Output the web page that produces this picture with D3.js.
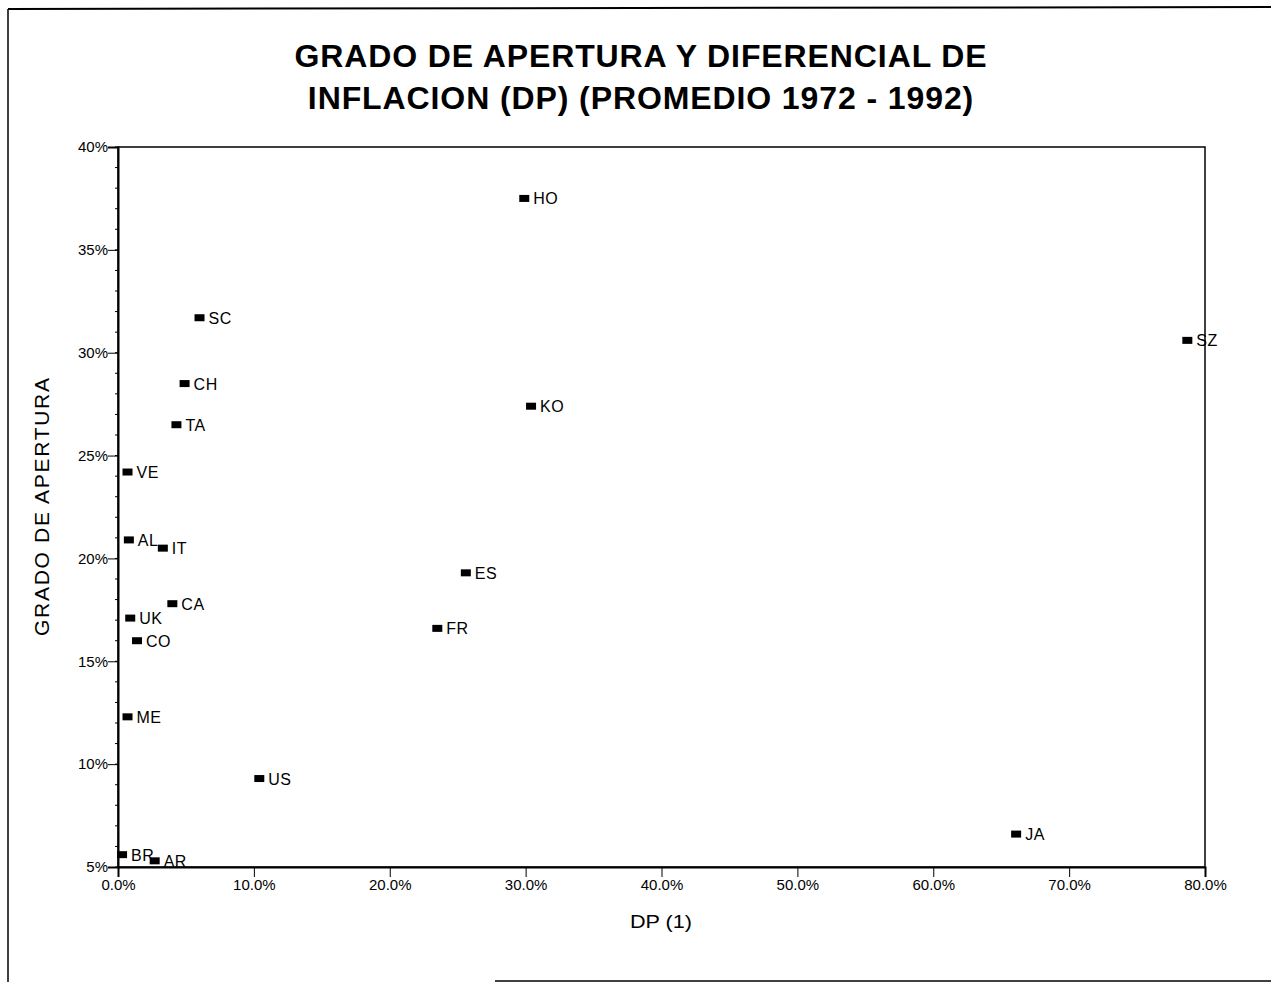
<!DOCTYPE html>
<html>
<head>
<meta charset="utf-8">
<script src="https://cdn.jsdelivr.net/npm/d3@7"></script>
<style>
  html, body { margin: 0; padding: 0; background: #fff; }
  svg { display: block; font-family: "Liberation Sans", Arial, sans-serif; }
</style>
</head>
<body>
<svg id="chart" width="1271" height="982"></svg>
<script>
// ---- data ----
const countries = ["HO","SC","SZ","CH","KO","TA","VE","AL","IT","ES","CA","UK","FR","CO","ME","US","JA","BR","AR"];
const dpValues  = [29.9, 6.0, 78.7, 4.9, 30.4, 4.3, 0.7, 0.8, 3.3, 25.6, 4.0, 0.9, 23.5, 1.4, 0.7, 10.4, 66.1, 0.3, 2.7];
const openValues= [37.5, 31.7, 30.6, 28.5, 27.4, 26.5, 24.2, 20.9, 20.5, 19.3, 17.8, 17.1, 16.6, 16.0, 12.3, 9.3, 6.6, 5.6, 5.3];
const xTicks = [0,10,20,30,40,50,60,70,80];
const xTickLabels = ["0.0%","10.0%","20.0%","30.0%","40.0%","50.0%","60.0%","70.0%","80.0%"];
const yTicks = [5,10,15,20,25,30,35,40];
const yTickLabels = ["5%","10%","15%","20%","25%","30%","35%","40%"];
const yMinorTicks = d3.range(5, 40.01, 1);
const titleLines = ["GRADO DE APERTURA Y DIFERENCIAL DE", "INFLACION (DP) (PROMEDIO 1972 - 1992)"];
const xLabel = "DP (1)";
const yLabel = "GRADO DE APERTURA";

const svg = d3.select("#chart");
const pLeft = 118, pRight = 1205, pTop = 147, pBottom = 867;

const x = d3.scaleLinear().domain([0, 80]).range([pLeft, pRight]);
const y = d3.scaleLinear().domain([5, 40]).range([pBottom, pTop]);

// page border (scan frame)
svg.append("line").attr("x1", 8).attr("y1", 9).attr("x2", 1271).attr("y2", 7).attr("stroke", "#000").attr("stroke-width", 2);
svg.append("line").attr("x1", 8).attr("y1", 9).attr("x2", 8).attr("y2", 982).attr("stroke", "#000").attr("stroke-width", 1.5);
svg.append("line").attr("x1", 495).attr("y1", 981).attr("x2", 1271).attr("y2", 981).attr("stroke", "#000").attr("stroke-width", 1.5);

// title
svg.append("text")
  .attr("text-anchor", "middle")
  .attr("font-weight", "bold").attr("font-size", 32).attr("letter-spacing", 0.9)
  .selectAll("tspan").data(titleLines).join("tspan")
  .attr("x", 641).attr("y", (d, i) => 67 + i * 42)
  .text(d => d);

// plot frame
svg.append("rect").attr("x", pLeft).attr("y", pTop).attr("width", pRight - pLeft).attr("height", pBottom - pTop)
  .attr("fill", "none").attr("stroke", "#000").attr("stroke-width", 1.5);

// x axis
const xAxis = d3.axisBottom(x).tickValues(xTicks).tickSize(10).tickPadding(2)
  .tickFormat((d, i) => xTickLabels[i]);
const gx = svg.append("g").attr("transform", `translate(0,${pBottom})`).call(xAxis);
gx.select(".domain").attr("stroke-width", 2);
gx.selectAll("text").attr("font-size", 15).attr("font-family", "Liberation Sans, Arial, sans-serif").attr("fill", "#000");

// y axis
const yAxis = d3.axisLeft(y).tickValues(yTicks).tickSize(10).tickPadding(0)
  .tickFormat((d, i) => yTickLabels[i]);
const gy = svg.append("g").attr("transform", `translate(${pLeft},0)`).call(yAxis);
gy.select(".domain").attr("stroke-width", 2);
gy.selectAll("text").attr("font-size", 15).attr("font-family", "Liberation Sans, Arial, sans-serif").attr("fill", "#000");

// y minor ticks
svg.append("g").selectAll("line").data(yMinorTicks).join("line")
  .attr("x1", pLeft - 3).attr("x2", pLeft)
  .attr("y1", d => y(d)).attr("y2", d => y(d))
  .attr("stroke", "#000").attr("stroke-width", 1);

// axis labels
svg.append("text").attr("x", 661).attr("y", 928).attr("text-anchor", "middle")
  .attr("font-size", 18).attr("textLength", 62).attr("lengthAdjust", "spacingAndGlyphs").text(xLabel);
svg.append("text").attr("transform", "translate(49,507) rotate(-90)").attr("text-anchor", "middle")
  .attr("font-size", 21).attr("textLength", 258).attr("lengthAdjust", "spacing").text(yLabel);

// points
const pts = countries.map((c, i) => ({ c, dp: dpValues[i], op: openValues[i] }));
const g = svg.append("g");
g.selectAll("rect").data(pts).join("rect")
  .attr("x", d => x(d.dp) - 5).attr("y", d => y(d.op) - 3.5)
  .attr("width", 10).attr("height", 7).attr("fill", "#000");
g.selectAll("text").data(pts).join("text")
  .attr("x", d => x(d.dp) + 9).attr("y", d => y(d.op) + 6)
  .attr("font-size", 16).attr("letter-spacing", 0.5).attr("fill", "#000")
  .text(d => d.c);
</script>
</body>
</html>
